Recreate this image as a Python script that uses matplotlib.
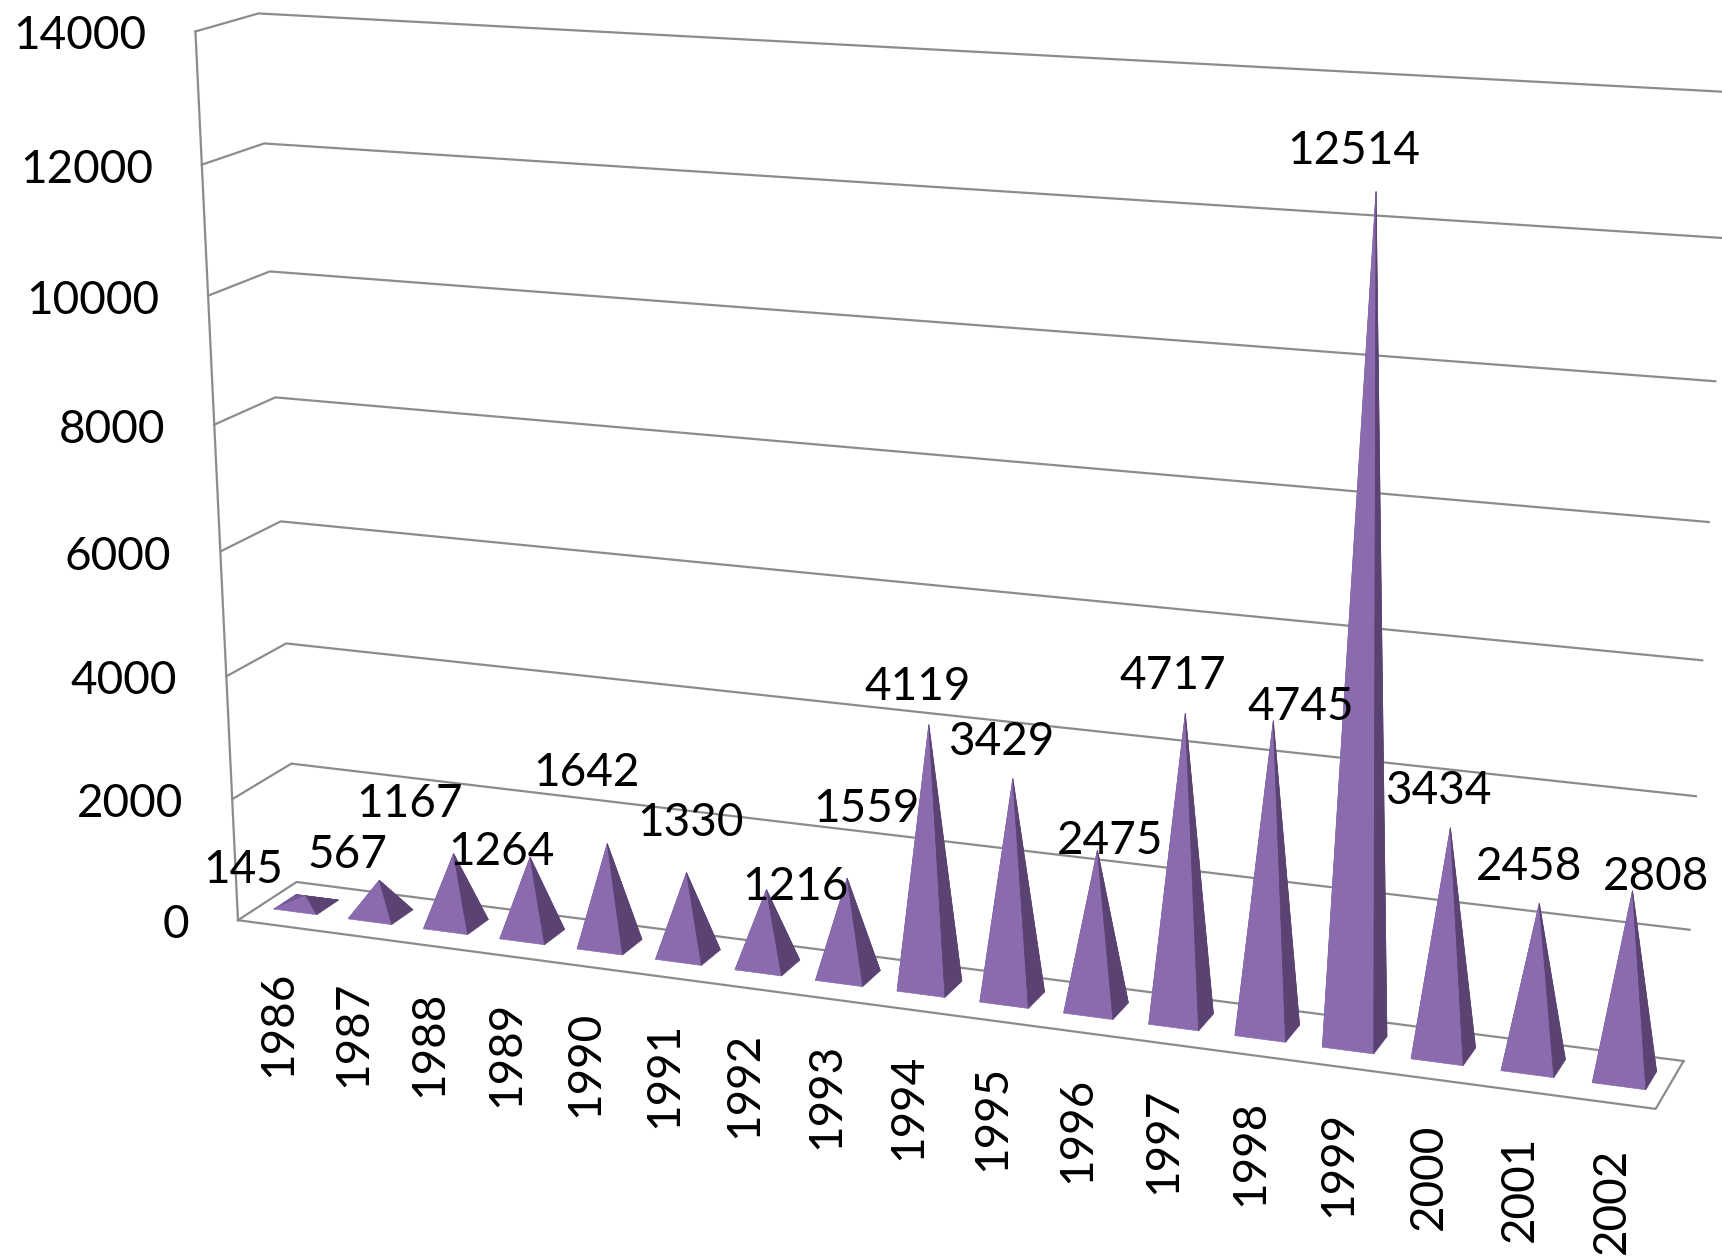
import numpy as np
import matplotlib
matplotlib.use('Agg')
from matplotlib import pyplot as plt
from matplotlib.patches import Polygon

years = list(range(1986, 2003))
values = [145, 567, 1167, 1264, 1642, 1330, 1216, 1559, 4119, 3429, 2475, 4717, 4745, 12514, 3434, 2458, 2808]
y_ticks = [0, 2000, 4000, 6000, 8000, 10000, 12000, 14000]

# value label centres, read in 1568 wide coordinates
label_x = [221, 316, 373, 457, 534, 629, 724, 789, 836, 912, 1011, 1068, 1184, 1233, 1310, 1392, 1508]
label_y = [790, 777, 730, 774, 702, 748, 806, 735, 624, 674, 764, 614, 642, 136, 718, 788, 797]
SCALE = 1722 / 1568

FONT = 'Lato'
FONT_SIZE = 33
GRID = '#8c8c8c'
FRONT = '#8a6bae'
RIGHT = '#5a4273'
LEFT = '#74589a'
BACK = '#68508a'

# camera: (category, depth, value) -> pixel, fitted on the box corners and some apexes
camera_pts = [
    (0, 0, 0, 237, 921), (0, 1, 0, 297, 882), (17, 0, 0, 1657, 1107), (17, 1, 0, 1682, 1061),
    (0, 0, 2000, 233, 797), (0, 1, 2000, 292, 764),
    (0, 0, 12000, 203, 163), (0, 1, 12000, 263, 144),
    (0, 0, 14000, 195, 30), (0, 1, 14000, 259, 14),
    (17, 1, 2000, 1691, 929), (17, 1, 4000, 1696, 795), (17, 1, 6000, 1703, 659),
    (17, 1, 8000, 1709, 521), (17, 1, 10000, 1716, 379), (17, 1, 12000, 1722, 236),
    (13.5, .5, 12514, 1374, 198), (16.5, .5, 2808, 1631, 895),
    (1.5, .5, 567, 377, 882), (8.5, .5, 4119, 928, 727), (12.5, .5, 4745, 1270, 725),
]
A = []
b = []
for x, d, v, px, py in camera_pts:
    h = v / 14000
    A.append([x, d, h, 1, 0, 0, 0, 0, -px*x, -px*d, -px*h])
    A.append([0, 0, 0, 0, x, d, h, 1, -py*x, -py*d, -py*h])
    b += [px, py]
m = np.linalg.lstsq(np.array(A, float), np.array(b, float), rcond=None)[0]
M = np.append(m, 1).reshape(3, 4)


def project(x, d, v):
    p = M @ np.array([x, d, v / 14000, 1])
    return p[0] / p[2], p[1] / p[2]


fig = plt.figure(figsize=(17.22, 12.6), dpi=100)
ax = fig.add_axes([0, 0, 1, 1])
ax.set_xlim(0, 1722)
ax.set_ylim(1260, 0)
ax.axis('off')

# walls and floor
for t in y_ticks:
    pts = [project(0, 0, t), project(0, 1, t), project(17, 1, t)]
    ax.plot(*zip(*pts), color=GRID, lw=1.6, zorder=1)
ax.plot(*zip(project(0, 0, 0), project(0, 0, 14000)), color=GRID, lw=1.6, zorder=1)
ax.plot(*zip(project(0, 0, 0), project(17, 0, 0), project(17, 1, 0)), color=GRID, lw=1.6, zorder=1)

# pyramids
half = 0.29
d0, d1 = 0.34, 0.72
for i, val in enumerate(values):
    c = i + 0.5
    fl = project(c - half, d0, 0)
    fr = project(c + half, d0, 0)
    bl = project(c - half, d1, 0)
    br = project(c + half, d1, 0)
    top = project(c, (d0 + d1) / 2, val)
    for face, col in [((bl, br, top), BACK), ((bl, fl, top), LEFT), ((fl, fr, top), FRONT), ((fr, br, top), RIGHT)]:
        ax.add_patch(Polygon(face, closed=True, facecolor=col, edgecolor=col, lw=0.5, zorder=2 + i * 0.01))

# y axis labels
for t in y_ticks:
    px, py = project(0, 0, t)
    ax.text(px - 49, py + 5, str(t), ha='right', va='center', family=FONT, fontsize=FONT_SIZE, color='black', zorder=5)

# year labels
for i, yr in enumerate(years):
    px, py = project(i + 0.5, 0, 0)
    ax.text(px + 3, py + 45, str(yr), rotation=90, ha='center', va='top', family=FONT, fontsize=FONT_SIZE, color='black', zorder=5)

# value labels
for val, lx, ly in zip(values, label_x, label_y):
    ax.text(lx * SCALE, ly * SCALE + 2, str(val), ha='center', va='center', family=FONT, fontsize=FONT_SIZE, color='black', zorder=5)

fig.savefig('out.png', dpi=100, facecolor='white')
